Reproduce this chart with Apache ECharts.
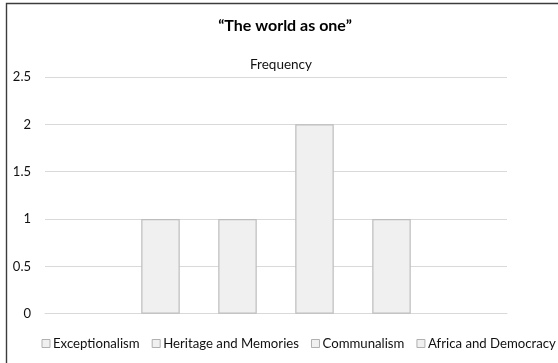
<!DOCTYPE html>
<html>
<head>
<meta charset="utf-8">
<script src="https://cdn.jsdelivr.net/npm/echarts@6/dist/echarts.min.js"></script>
<style>
  html, body { margin: 0; padding: 0; background: #ffffff; }
  #chart { width: 558px; height: 363px; }
</style>
</head>
<body>
<div id="chart"></div>
<script>
// Frequency of each theme in "The world as one"
const categories = ['Frequency'];
const seriesNames = ['Exceptionalism', 'Heritage and Memories', 'Communalism', 'Africa and Democracy'];
const seriesValues = [1, 1, 2, 1];
const yTicks = { min: 0, max: 2.5, interval: 0.5 };

const FONT = 'Lato';

const chart = echarts.init(document.getElementById('chart'), null, { renderer: 'canvas' });

const series = seriesNames.map((name, i) => ({
  name: name,
  type: 'bar',
  data: [seriesValues[i]],
  barWidth: 38.5,
  barGap: '100%',
  itemStyle: { color: '#f0f0f0', borderColor: '#bdbdbd', borderWidth: 1.2 },
  emphasis: { disabled: true }
}));

chart.setOption({
  animation: false,
  backgroundColor: '#ffffff',
  color: ['#f0f0f0'],
  title: [
    {
      text: '\u201CThe world as one\u201D',
      left: 280, textAlign: 'center', top: 13,
      textStyle: { fontFamily: FONT, fontSize: 16, fontWeight: 'bold', color: '#000' }
    },
    {
      text: 'Frequency',
      left: 276, textAlign: 'center', top: 53,
      textStyle: { fontFamily: FONT, fontSize: 13.5, fontWeight: 'normal', color: '#111' }
    }
  ],
  grid: { left: 45, right: 51, top: 77, bottom: 49.3, containLabel: false },
  legend: {
    data: seriesNames,
    left: 41.5, top: 337, padding: 0,
    itemWidth: 8, itemHeight: 8, itemGap: 12,
    icon: 'rect',
    selectedMode: false,
    itemStyle: { color: '#f0f0f0', borderColor: '#b0b0b0', borderWidth: 1 },
    textStyle: { fontFamily: FONT, fontSize: 13.2, color: '#111', padding: [0, 0, 0, -2] }
  },
  xAxis: {
    type: 'category',
    data: categories,
    axisLine: { show: true, lineStyle: { color: '#d9d9d9', width: 1 } },
    axisTick: { show: false },
    axisLabel: { show: false },
    splitLine: { show: false }
  },
  yAxis: {
    type: 'value',
    min: yTicks.min, max: yTicks.max, interval: yTicks.interval,
    axisLine: { show: false },
    axisTick: { show: false },
    axisLabel: { fontFamily: FONT, fontSize: 13, color: '#111', margin: 14 },
    splitLine: { lineStyle: { color: '#d9d9d9', width: 1 } }
  },
  graphic: [
    {
      type: 'rect',
      shape: { x: 6.5, y: 3.5, width: 700, height: 500 },
      style: { fill: 'none', stroke: '#3c3c3c', lineWidth: 1.4 },
      silent: true, z: 100
    }
  ],
  series: series
});
</script>
</body>
</html>
